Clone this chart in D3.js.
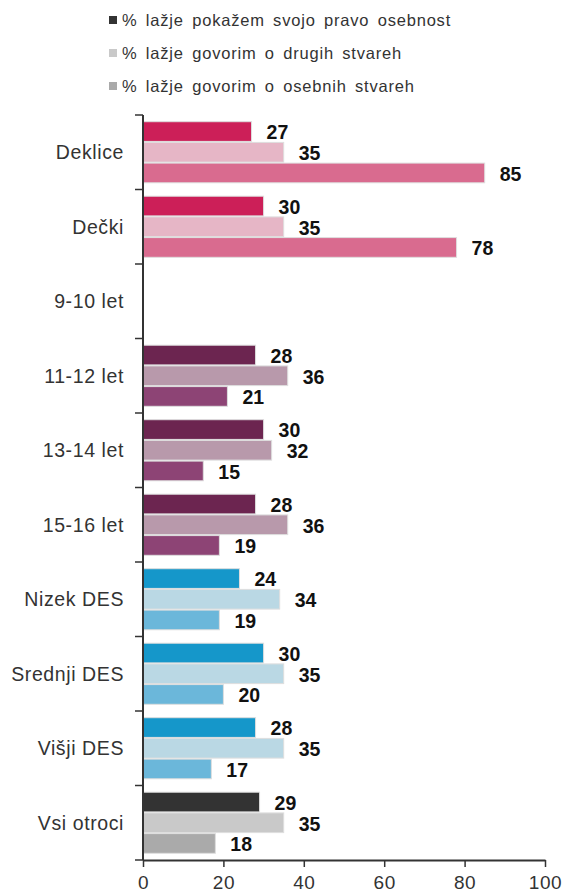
<!DOCTYPE html>
<html>
<head>
<meta charset="utf-8">
<script src="https://cdn.jsdelivr.net/npm/d3@7"></script>
<style>
  html, body { margin: 0; padding: 0; background: #fff; }
  svg { display: block; font-family: "Liberation Sans", Arial, sans-serif; }
</style>
</head>
<body>
<svg id="chart" width="563" height="893"></svg>
<script>
// ---- Data ----
const categories = ["Deklice", "Dečki", "9-10 let", "11-12 let", "13-14 let", "15-16 let", "Nizek DES", "Srednji DES", "Višji DES", "Vsi otroci"];
const seriesNames = ["% lažje pokažem svojo pravo osebnost", "% lažje govorim o drugih stvareh", "% lažje govorim o osebnih stvareh"];
const pravoOsebnost = [27, 30, null, 28, 30, 28, 24, 30, 28, 29];
const drugeStvari   = [35, 35, null, 36, 32, 36, 34, 35, 35, 35];
const osebneStvari  = [85, 78, null, 21, 15, 19, 19, 20, 17, 18];
const groupOf = ["girlsboys", "girlsboys", "age", "age", "age", "age", "des", "des", "des", "all"];
const palettes = {
  girlsboys: ["#cc1f58", "#e6b6c6", "#d96b8f"],
  age:       ["#6c2550", "#b899ab", "#8d4475"],
  des:       ["#1597ca", "#bad8e4", "#6bb7da"],
  all:       ["#333333", "#c9c9c9", "#aaaaaa"]
};
const legendColors = ["#333333", "#c9c9c9", "#aaaaaa"];
const xTicks = [0, 20, 40, 60, 80, 100];

const seriesValues = [pravoOsebnost, drugeStvari, osebneStvari];

// ---- Layout ----
const svg = d3.select("#chart");
const x = d3.scaleLinear().domain([0, 100]).range([143, 545]);
const y = d3.scaleBand().domain(categories).range([115, 860]).padding(0);
const inner = d3.scaleBand().domain([0, 1, 2]).range([0, y.bandwidth()]).paddingOuter(0.3).paddingInner(0);

// Bars
const rows = [];
categories.forEach((c, i) => {
  seriesValues.forEach((vals, s) => {
    if (vals[i] != null) rows.push({ cat: c, s, v: vals[i], color: palettes[groupOf[i]][s] });
  });
});

svg.append("g").selectAll("rect").data(rows).join("rect")
  .attr("x", x(0))
  .attr("y", d => y(d.cat) + inner(d.s) + 0.5)
  .attr("width", d => x(d.v) - x(0))
  .attr("height", inner.bandwidth() - 1)
  .attr("fill", d => d.color)
  .attr("stroke", "#dedede")
  .attr("stroke-width", 1);

// Value labels
svg.append("g").selectAll("text").data(rows).join("text")
  .attr("x", d => x(d.v) + 15)
  .attr("y", d => y(d.cat) + inner(d.s) + inner.bandwidth() / 2 + 1)
  .attr("dy", "0.35em")
  .attr("font-size", 19.5)
  .attr("font-weight", "bold")
  .attr("fill", "#111")
  .text(d => d.v);

// Y axis
const yAxisG = svg.append("g").attr("transform", `translate(${x(0)},0)`);
yAxisG.append("line").attr("x1", 0).attr("x2", 0).attr("y1", 115).attr("y2", 860)
  .attr("stroke", "#333").attr("stroke-width", 2);
const boundaries = categories.map(c => y(c)).concat([860]);
yAxisG.selectAll("line.tick").data(boundaries).join("line").attr("class", "tick")
  .attr("x1", -8).attr("x2", 0).attr("y1", d => d).attr("y2", d => d)
  .attr("stroke", "#333").attr("stroke-width", 1.5);
yAxisG.selectAll("text").data(categories).join("text")
  .attr("x", -19)
  .attr("y", d => y(d) + y.bandwidth() / 2)
  .attr("dy", "0.35em")
  .attr("text-anchor", "end")
  .attr("font-size", 19.5)
  .attr("letter-spacing", 0.6)
  .attr("fill", "#333")
  .text(d => d);

// X axis
const xAxis = d3.axisBottom(x).tickValues(xTicks).tickSize(7).tickPadding(9).tickSizeOuter(0);
const xg = svg.append("g").attr("transform", "translate(0,860)").call(xAxis);
xg.select(".domain").attr("stroke", "#333").attr("stroke-width", 2);
xg.selectAll(".tick line").attr("stroke", "#333").attr("stroke-width", 1.5);
xg.selectAll(".tick text").attr("font-size", 19).attr("fill", "#333")
  .attr("font-family", "Liberation Sans, Arial, sans-serif").attr("letter-spacing", 0.6);

// Legend
const lg = svg.append("g");
const legendY = [20, 53, 86];
seriesNames.forEach((name, i) => {
  lg.append("rect").attr("x", 109).attr("y", legendY[i] - 4).attr("width", 8).attr("height", 8)
    .attr("fill", legendColors[i]);
  lg.append("text").attr("x", 122).attr("y", legendY[i]).attr("dy", "0.35em")
    .attr("font-size", 16.5).attr("letter-spacing", 0.8).attr("word-spacing", 3)
    .attr("fill", "#333")
    .text(name);
});
</script>
</body>
</html>
